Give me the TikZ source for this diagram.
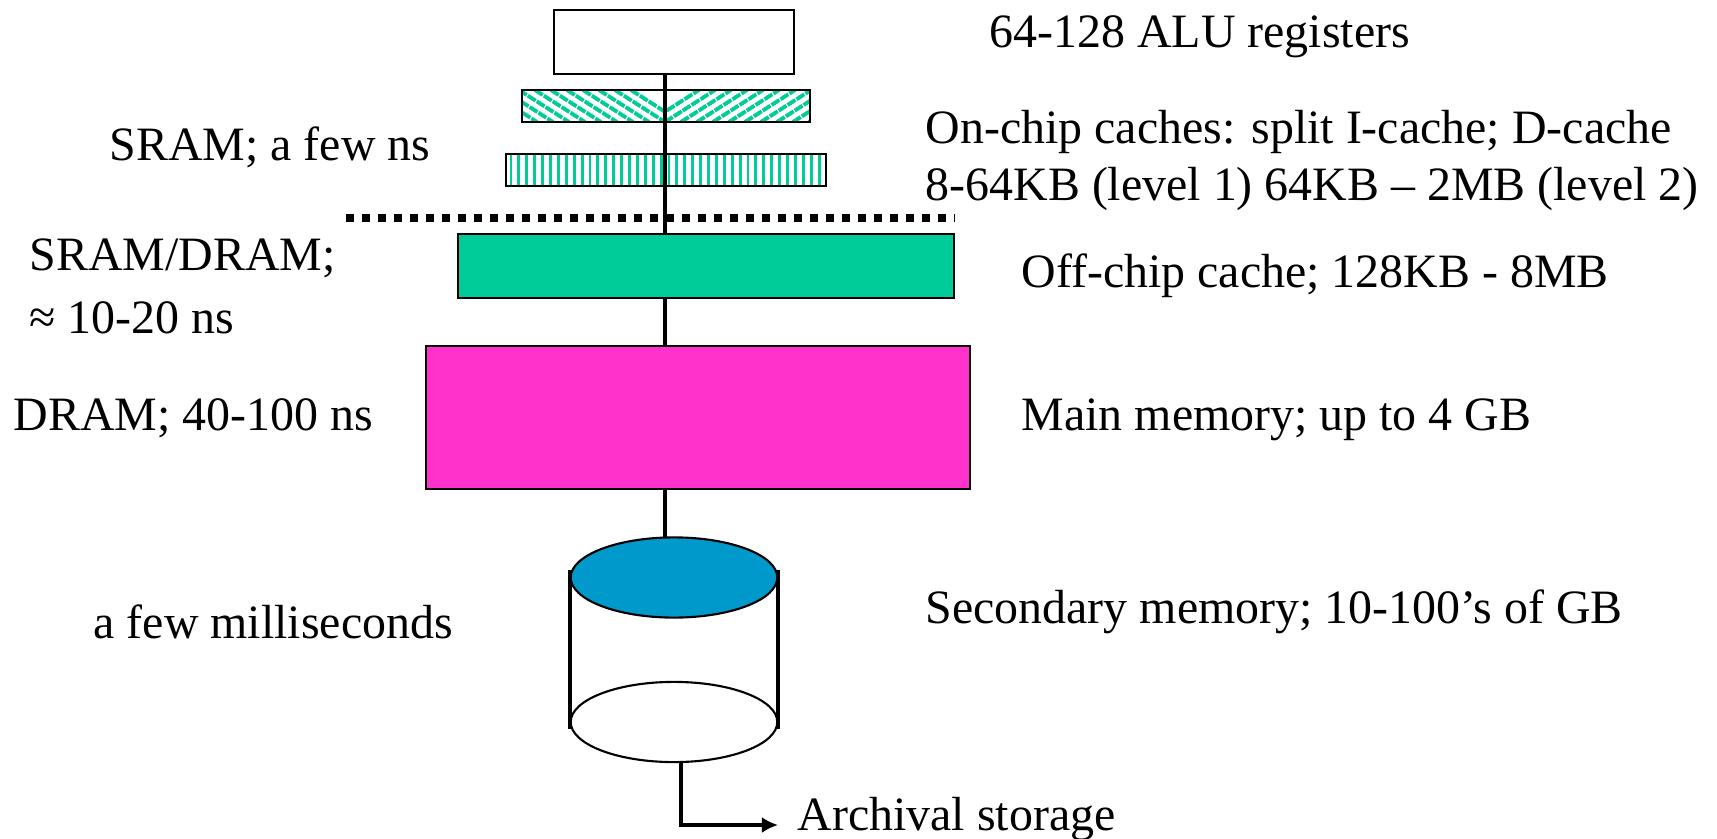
\documentclass[tikz,border=0pt]{standalone}
\usepackage{fontspec}
\setmainfont{Liberation Serif}
\usetikzlibrary{shapes.geometric,arrows.meta}

\definecolor{cacheGreen}{HTML}{00CC99}
\definecolor{mainPink}{HTML}{FF33CC}
\definecolor{diskBlue}{HTML}{0099CC}

\tikzset{
    membox/.style={rectangle, inner sep=0pt, outer sep=0pt},
    boxline/.style={draw=black, line width=0.6pt},
    wire/.style={draw=black, line width=1pt},
    disk/.style={ellipse, draw=black, line width=0.6pt, inner sep=0pt, outer sep=0pt, minimum width=5.9cm*0.35, minimum height=2.29cm*0.35},
    note/.style={anchor=base west, inner sep=0pt, font=\fontsize{13.62}{16}\selectfont},
}

\begin{document}
\begin{tikzpicture}[x=0.01cm, y=-0.01cm]
    \useasboundingbox (0, 0) rectangle (1717, 839);
    % Memory levels:
    \coordinate (spine) at (665, 0);
    \node[membox, boxline, minimum width=2.40cm, minimum height=0.64cm] (regs) at (674, 42) {};
    \node[membox, minimum width=2.88cm, minimum height=0.32cm] (l1) at (666, 106) {};
    \node[membox, minimum width=3.20cm, minimum height=0.32cm] (l2) at (666, 170) {};
    \node[membox, boxline, fill=cacheGreen, minimum width=4.96cm, minimum height=0.64cm] (offchip) at (706, 266) {};
    \node[membox, boxline, fill=mainPink, minimum width=5.44cm, minimum height=1.43cm] (mainmem) at (698, 417.5) {};
    % Hatching of the two cache boxes:
    \begin{scope}
        \clip (l1.south west) rectangle (l1.north -| spine);
        \foreach \i in {-1, ..., 20} {
            \draw[cacheGreen, line width=1.1pt, dash pattern=on 2.6pt off 0.4pt] (665 - \i*16 - 50, 90) -- (665 - \i*16, 122);
        }
    \end{scope}
    \begin{scope}
        \clip (l1.south -| spine) rectangle (l1.north east);
        \foreach \i in {-1, ..., 20} {
            \draw[cacheGreen, line width=1.1pt, dash pattern=on 2.6pt off 0.4pt] (665 + \i*16, 122) -- (665 + \i*16 + 50, 90);
        }
    \end{scope}
    \begin{scope}
        \clip (l2.south west) rectangle (l2.north east);
        \foreach \i in {0, ..., 40} {
            \draw[cacheGreen, line width=0.85pt] (511 + \i*7.9, 154) -- (511 + \i*7.9, 186);
        }
    \end{scope}
    \draw[boxline] (l1.south west) rectangle (l1.north east);
    \draw[boxline] (l2.south west) rectangle (l2.north east);
    % Chip boundary:
    \coordinate (chipL) at (346, 218);
    \coordinate (chipR) at (955, 218);
    \draw[line width=2.1pt, dash pattern=on 2.15pt off 2.4pt] (chipL) -- (chipR);
    % Disk:
    \node[disk, fill=white] (platterB) at (674, 722) {};
    \node[disk, fill=diskBlue] (platterT) at (674, 577.5) {};
    \coordinate (sideLT) at (570, 570);
    \coordinate (sideLB) at (570, 729);
    \coordinate (sideRT) at (778, 570);
    \coordinate (sideRB) at (778, 729);
    \draw[wire] (sideLT) -- (sideLB);
    \draw[wire] (sideRT) -- (sideRB);
    % Wires:
    \draw[wire] (regs.south -| spine) -- (offchip.north -| spine);
    \draw[wire] (offchip.south -| spine) -- (mainmem.north -| spine);
    \draw[wire] (mainmem.south -| spine) -- (platterT.north -| spine);
    \coordinate (archiveEnd) at (778, 825);
    \draw[wire, -{Latex[length=4.6pt, width=4.6pt]}] (platterB.south -| 681, 0) -- (681, 825) -- (archiveEnd);
    % Labels:
    \node[note] (regsnote) at (989, 47) {64-128 ALU registers};
    \node[note] (l1note) at (925, 143) {On-chip caches: split I-cache; D-cache};
    \node[note] (l2note) at (925, 200) {8-64KB (level 1) 64KB – 2MB (level 2)};
    \node[note] (sramnote) at (109, 160) {SRAM; a few ns};
    \node[note] (sdnote) at (29, 270) {SRAM/DRAM;};
    \node[note] (sdtime) at (29, 333) {≈ 10-20 ns};
    \node[note] (offnote) at (1021, 287) {Off-chip cache; 128KB - 8MB};
    \node[note] (mainnote) at (1021, 430) {Main memory; up to 4 GB};
    \node[note] (dramnote) at (13, 430) {DRAM; 40-100 ns};
    \node[note] (disktime) at (93, 638) {a few milliseconds};
    \node[note] (disknote) at (925, 623) {Secondary memory; 10-100’s of GB};
    \node[note] (archnote) at (797, 830) {Archival storage};
\end{tikzpicture}
\end{document}
